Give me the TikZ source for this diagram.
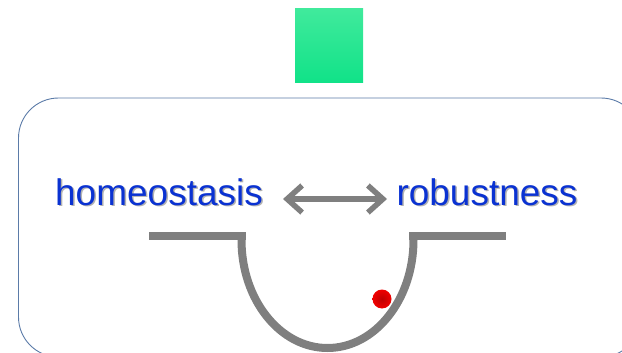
\documentclass[tikz,border=0pt]{standalone}
\usepackage{fontspec}
\setmainfont{Liberation Sans}
\usetikzlibrary{arrows.meta,shadings}
\definecolor{txtblue}{HTML}{0A32D2}
\definecolor{wellgray}{HTML}{7F7F7F}
\definecolor{framecol}{HTML}{5B7BA8}
\tikzset{
  lbl/.style={font=\fontsize{37}{40}\selectfont, text=txtblue, inner sep=0pt, anchor=base},
  lblshadow/.style={font=\fontsize{37}{40}\selectfont, text=black!30, inner sep=0pt, anchor=base},
  wellline/.style={draw=wellgray, line width=8pt},
  linkarrow/.style={draw=wellgray, line width=5.5pt, {Straight Barb[length=15pt,width=27pt,line width=5.5pt]}-{Straight Barb[length=15pt,width=27pt,line width=5.5pt]}}
}
\begin{document}
\begin{tikzpicture}[x=1pt,y=-1pt]
\useasboundingbox (0,0) rectangle (622,353);
% green square
\shade[top color={rgb,255:red,64;green,234;blue,156}, bottom color={rgb,255:red,16;green,226;blue,136}] (295,9) rectangle (363,83);
% frame
\draw[framecol, line width=0.9pt, rounded corners=40pt] (18.5,98) rectangle (641,357);
% labels
\node[lblshadow] at (160.5,206.5) {homeostasis};
\node[lbl] (homeo) at (159,205) {homeostasis};
\node[lblshadow] at (488.5,206.5) {robustness};
\node[lbl] (robust) at (487,205) {robustness};
% arrow
\coordinate (aL) at (283,199);
\coordinate (aR) at (387,199);
\draw[linkarrow] (aL) -- (aR);
% well
\coordinate (wl0) at (149,235.5);
\coordinate (wl1) at (245.5,235.5);
\coordinate (wr0) at (409,235.5);
\coordinate (wr1) at (506,235.5);
\draw[wellline] (wl0) -- (wl1);
\draw[wellline] (wr0) -- (wr1);
\coordinate (uL) at (241.5,232);
\coordinate (uR) at (413.5,232);
\draw[wellline] (uL) -- (241.5,240) arc[start angle=180, end angle=0, x radius=86, y radius=108] -- (uR);
% ball
\shade[inner color={rgb,255:red,190;green,0;blue,0}, outer color={rgb,255:red,240;green,0;blue,0}] (382,299) circle (9.5);
\end{tikzpicture}
\end{document}
